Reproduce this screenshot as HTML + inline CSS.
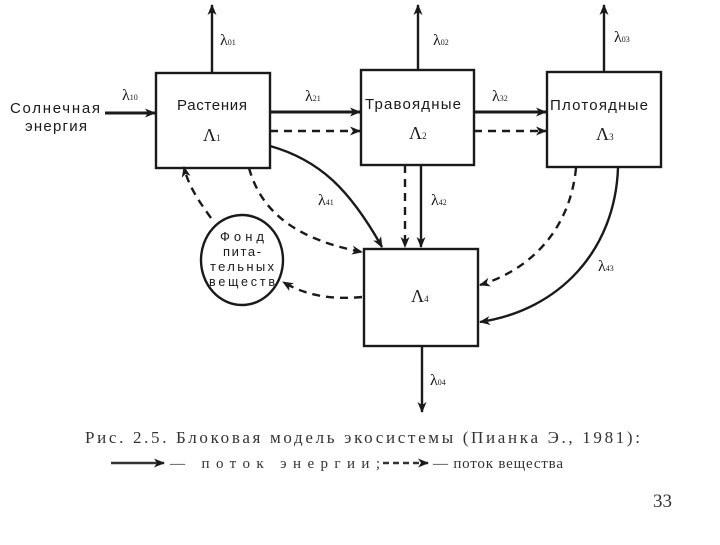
<!DOCTYPE html>
<html><head><meta charset="utf-8"><style>
body{margin:0;background:#fff;width:720px;height:540px;overflow:hidden}
svg text{font-family:"Liberation Sans",sans-serif;fill:#1a1a1a}
.s{font-family:"Liberation Serif",serif}
</style></head><body>
<svg width="720" height="540" viewBox="0 0 720 540">
<defs><marker id="a" markerWidth="11" markerHeight="9" refX="10" refY="4.5" orient="auto" markerUnits="userSpaceOnUse"><path d="M0,0 L11,4.5 L0,9 L3,4.5z" fill="#1a1a1a"/></marker></defs>
<g stroke="#1a1a1a" stroke-width="2.4" fill="none">
<rect x="156" y="73" width="114" height="95"/>
<rect x="361" y="70" width="113" height="95"/>
<rect x="547" y="72" width="114" height="95"/>
<rect x="364" y="249" width="114" height="97"/>
<ellipse cx="242" cy="260" rx="41" ry="45"/>
<g marker-end="url(#a)">
<line x1="212" y1="73" x2="212" y2="5"/>
<line x1="418" y1="70" x2="418" y2="5"/>
<line x1="604" y1="72" x2="604" y2="5"/>
<line x1="422" y1="346" x2="422" y2="412"/>
<line x1="105" y1="113" x2="155" y2="113" stroke-width="3"/>
<line x1="270" y1="112" x2="360" y2="112" stroke-width="3"/>
<line x1="474" y1="112" x2="546" y2="112" stroke-width="3"/>
<line x1="421" y1="165" x2="421" y2="247"/>
<path d="M270,146 C320,160 350,190 382,247"/>
<path d="M618,168 C615,250 560,310 480,322"/>
</g>
<g marker-end="url(#a)" stroke-dasharray="8,6">
<line x1="270" y1="131" x2="360" y2="131"/>
<line x1="474" y1="131" x2="546" y2="131"/>
<line x1="405" y1="165" x2="405" y2="247"/>
<path d="M249,168 C262,215 300,240 362,252"/>
<path d="M576,168 C570,230 530,270 480,285"/>
<path d="M362,297 C330,300 305,295 283,282"/>
<path d="M211,218 C198,200 188,185 184,167"/>
</g>
</g>
<g font-size="15" style="font-weight:500">
<text x="10" y="113" textLength="90">Солнечная</text><text x="25" y="131" textLength="62">энергия</text>
<text x="177" y="110" textLength="70">Растения</text>
<text x="365" y="109" textLength="96">Травоядные</text>
<text x="550" y="110" textLength="98">Плотоядные</text>
<text x="220" y="241" font-size="13" textLength="44">Фонд</text>
<text x="223" y="256" font-size="13" textLength="38">пита-</text>
<text x="210" y="271" font-size="13" textLength="64">тельных</text>
<text x="209" y="286" font-size="12.5" textLength="66">веществ</text>
</g>
<g font-size="18">
<text x="203" y="141" class="s">Λ<tspan font-size="9">1</tspan></text>
<text x="409" y="139" class="s">Λ<tspan font-size="9">2</tspan></text>
<text x="596" y="140" class="s">Λ<tspan font-size="9">3</tspan></text>
<text x="411" y="302" class="s">Λ<tspan font-size="9">4</tspan></text>
</g>
<g font-size="16">
<text class="s" x="220" y="45">λ<tspan font-size="8">01</tspan></text>
<text class="s" x="433" y="45">λ<tspan font-size="8">02</tspan></text>
<text class="s" x="614" y="42">λ<tspan font-size="8">03</tspan></text>
<text class="s" x="122" y="100">λ<tspan font-size="8">10</tspan></text>
<text class="s" x="305" y="101">λ<tspan font-size="8">21</tspan></text>
<text class="s" x="492" y="101">λ<tspan font-size="8">32</tspan></text>
<text class="s" x="318" y="205">λ<tspan font-size="8">41</tspan></text>
<text class="s" x="431" y="205">λ<tspan font-size="8">42</tspan></text>
<text class="s" x="598" y="271">λ<tspan font-size="8">43</tspan></text>
<text class="s" x="430" y="385">λ<tspan font-size="8">04</tspan></text>
</g>
<text class="s" x="85" y="443" font-size="17" textLength="555" style="fill:#333">Рис. 2.5. Блоковая модель экосистемы (Пианка Э., 1981):</text>
<g stroke="#333" stroke-width="2.4" marker-end="url(#a)">
<line x1="111" y1="463" x2="164" y2="463"/>
<line x1="383" y1="463" x2="428" y2="463" stroke-dasharray="6,4"/>
</g>
<text class="s" x="170" y="468" font-size="15" textLength="210" style="fill:#333">— поток энергии;</text>
<text class="s" x="433" y="468" font-size="15" textLength="130" style="fill:#333">— поток вещества</text>
<text class="s" x="653" y="507" font-size="19" style="fill:#333">33</text>
</svg>
</body></html>
